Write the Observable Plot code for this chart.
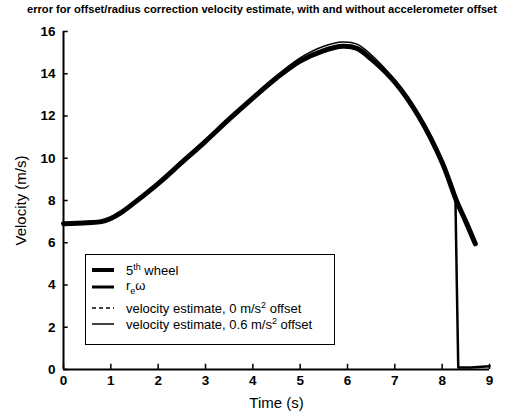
<!DOCTYPE html>
<html>
<head>
<meta charset="utf-8">
<script src="https://cdn.jsdelivr.net/npm/d3@7"></script>
<script src="https://cdn.jsdelivr.net/npm/@observablehq/plot@0.6"></script>
<style>
  body { margin: 0; background: #fff; }
  #wrap { position: relative; width: 505px; height: 411px; font-family: "Liberation Sans", Arial, sans-serif; color: #000; overflow: hidden; }
  #title { position: absolute; left: 262px; top: 3px; font-weight: bold; font-size: 11.5px; white-space: nowrap; transform-origin: 0 0; }
  #chart { position: absolute; left: 0; top: 20px; }
  #legend { position: absolute; left: 85px; top: 254px; width: 248px; height: 89px; border: 1.5px solid #000; background: #fff; font-size: 13px; }
  .row { position: absolute; left: 0; height: 16px; display: flex; align-items: center; }
  .row svg { margin-left: 6px; margin-right: 12px; }
  sup, sub { font-size: 9px; }
</style>
</head>
<body>
<div id="wrap">
  <div id="title">error for offset/radius correction velocity estimate, with and without accelerometer offset</div>
  <div id="chart"></div>
  <div id="legend"></div>
</div>
<script>
// Time (s) and velocity (m/s)
const timeMain   = [0, 0.5, 0.8, 1.0, 1.2, 1.5, 2.0, 2.5, 3.0, 3.5, 4.0, 4.5, 5.0, 5.5, 5.9, 6.2, 6.5, 7.0, 7.5, 8.0, 8.3, 8.5, 8.7];
const fifthWheel = [6.9, 6.95, 7.0, 7.15, 7.4, 7.9, 8.8, 9.8, 10.8, 11.85, 12.85, 13.8, 14.6, 15.1, 15.3, 15.2, 14.7, 13.6, 12.0, 9.8, 8.0, 7.0, 5.95];

const timeReOmega = [0, 0.5, 0.8, 1.0, 1.2, 1.5, 2.0, 2.5, 3.0, 3.5, 4.0, 4.5, 5.0, 5.5, 5.9, 6.2, 6.5, 7.0, 7.5, 8.0, 8.28, 8.31, 8.34, 8.6, 9.0];
const reOmega     = [6.9, 6.95, 7.0, 7.15, 7.4, 7.9, 8.8, 9.8, 10.8, 11.85, 12.85, 13.8, 14.6, 15.1, 15.3, 15.2, 14.7, 13.6, 12.0, 9.8, 8.1, 4.0, 0.1, 0.1, 0.15];

const estimate0   = [6.9, 6.95, 7.0, 7.15, 7.4, 7.9, 8.8, 9.8, 10.8, 11.85, 12.85, 13.8, 14.6, 15.15, 15.35, 15.25, 14.75, 13.6, 12.0, 9.8, 8.0, 7.0, 5.95];
const estimate06  = [6.9, 6.95, 7.0, 7.15, 7.4, 7.9, 8.8, 9.8, 10.85, 11.9, 12.9, 13.9, 14.75, 15.3, 15.5, 15.4, 14.9, 13.7, 12.1, 9.9, 8.1, 7.05, 5.95];

const xTicks = [0, 1, 2, 3, 4, 5, 6, 7, 8, 9];
const yTicks = [0, 2, 4, 6, 8, 10, 12, 14, 16];

const legendLabels = [
  "5<sup>th</sup> wheel",
  "r<sub>e</sub>ω",
  "velocity estimate, 0 m/s<sup>2</sup> offset",
  "velocity estimate, 0.6 m/s<sup>2</sup> offset"
];

const main = timeMain.map((t, i) => ({t, v: fifthWheel[i]}));
const re = timeReOmega.map((t, i) => ({t, v: reOmega[i]}));
const e0 = timeMain.map((t, i) => ({t, v: estimate0[i]}));
const e6 = timeMain.map((t, i) => ({t, v: estimate06[i]}));

const font = '"Liberation Sans", Arial, sans-serif';

const plot = Plot.plot({
  width: 505,
  height: 391,
  marginLeft: 63,
  marginRight: 16,
  marginTop: 11,
  marginBottom: 42,
  style: {fontFamily: font, fontSize: "13px", color: "#000", background: "#fff", overflow: "visible"},
  x: {domain: [0, 9]},
  y: {domain: [0, 16]},
  marks: [
    Plot.axisX(xTicks, {tickSize: 0, tickPadding: 6, fontSize: 13.5, fontWeight: "bold", label: "Time (s)", labelAnchor: "center", labelArrow: "none", labelOffset: 38}),
    Plot.axisY(yTicks, {tickSize: 0, tickPadding: 8, fontSize: 13.5, fontWeight: "bold", label: "Velocity (m/s)", labelAnchor: "center", labelArrow: "none", labelOffset: 48}),
    Plot.ruleX(xTicks, {x: d => d, y1: 0, y2: 0.25, stroke: "#000", strokeWidth: 1.5}),
    Plot.ruleY(yTicks, {y: d => d, x1: 0, x2: 0.1, stroke: "#000", strokeWidth: 1.5}),
    Plot.ruleY([0], {stroke: "#000", strokeWidth: 2}),
    Plot.ruleX([0], {stroke: "#000", strokeWidth: 2}),
    Plot.line(main, {x: "t", y: "v", stroke: "#000", strokeWidth: 5, curve: "catmull-rom"}),
    Plot.line(re, {x: "t", y: "v", stroke: "#000", strokeWidth: 2.5, curve: "linear"}),
    Plot.line(e0, {x: "t", y: "v", stroke: "#000", strokeWidth: 1.5, strokeDasharray: "4,3", curve: "catmull-rom"}),
    Plot.line(e6, {x: "t", y: "v", stroke: "#000", strokeWidth: 1.5, curve: "catmull-rom"})
  ]
});
document.getElementById("chart").appendChild(plot);

// axis titles: normal weight, larger
plot.querySelectorAll('[aria-label="x-axis label"] text, [aria-label="y-axis label"] text').forEach(t => {
  t.setAttribute("font-weight", "normal");
  t.setAttribute("font-size", "15");
});

// title: fit to the reference's width (about 470px), centred
const title = document.getElementById("title");
const w = title.getBoundingClientRect().width;
const target = 470;
const s = Math.min(1, target / w);
title.style.transform = `translateX(${-target / 2}px) scaleX(${s})`;

// legend
const legend = document.getElementById("legend");
const rowTops = [7, 24, 45, 61];
const samples = [
  {w: 4, dash: null},
  {w: 3, dash: null},
  {w: 1.5, dash: "4,3"},
  {w: 1.5, dash: null}
];
legendLabels.forEach((lab, i) => {
  const row = document.createElement("div");
  row.className = "row";
  row.style.top = rowTops[i] + "px";
  const sm = samples[i];
  row.innerHTML = `<svg width="22" height="10"><line x1="0" y1="5" x2="22" y2="5" stroke="#000" stroke-width="${sm.w}" ${sm.dash ? `stroke-dasharray="${sm.dash}"` : ""}/></svg><span>${lab}</span>`;
  legend.appendChild(row);
});
</script>
</body>
</html>
